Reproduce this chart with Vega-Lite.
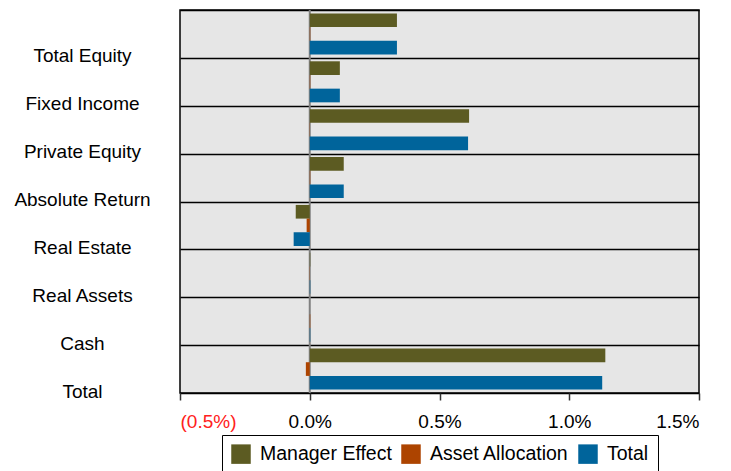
{
  "$schema": "https://vega.github.io/schema/vega-lite/v6.json",
  "autosize": "none",
  "width": 519,
  "height": 383,
  "padding": {"left": 180, "top": 10, "right": 32, "bottom": 78},
  "background": "white",
  "config": {
    "font": "Liberation Sans",
    "view": {"fill": "#e6e6e6", "stroke": "black", "strokeWidth": 1.5}
  },
  "data": {
    "values": [
      {"category": "Total Equity", "series": "Manager Effect", "value": 0.00336},
      {"category": "Total Equity", "series": "Asset Allocation", "value": 0.00002},
      {"category": "Total Equity", "series": "Total", "value": 0.00336},
      {"category": "Fixed Income", "series": "Manager Effect", "value": 0.00116},
      {"category": "Fixed Income", "series": "Asset Allocation", "value": 0.00002},
      {"category": "Fixed Income", "series": "Total", "value": 0.00116},
      {"category": "Private Equity", "series": "Manager Effect", "value": 0.00614},
      {"category": "Private Equity", "series": "Asset Allocation", "value": -0.00001},
      {"category": "Private Equity", "series": "Total", "value": 0.0061},
      {"category": "Absolute Return", "series": "Manager Effect", "value": 0.00131},
      {"category": "Absolute Return", "series": "Asset Allocation", "value": 0.00002},
      {"category": "Absolute Return", "series": "Total", "value": 0.00131},
      {"category": "Real Estate", "series": "Manager Effect", "value": -0.00054},
      {"category": "Real Estate", "series": "Asset Allocation", "value": -0.00012},
      {"category": "Real Estate", "series": "Total", "value": -0.00062},
      {"category": "Real Assets", "series": "Manager Effect", "value": 0.00002},
      {"category": "Real Assets", "series": "Asset Allocation", "value": -0.00001},
      {"category": "Real Assets", "series": "Total", "value": 0.00002},
      {"category": "Cash", "series": "Manager Effect", "value": 0.0},
      {"category": "Cash", "series": "Asset Allocation", "value": 0.00002},
      {"category": "Cash", "series": "Total", "value": 0.00002},
      {"category": "Total", "series": "Manager Effect", "value": 0.01139},
      {"category": "Total", "series": "Asset Allocation", "value": -0.00015},
      {"category": "Total", "series": "Total", "value": 0.01127}
    ]
  },
  "layer": [
    {
      "data": {"values": [{"x": 0}]},
      "mark": {"type": "rule", "color": "#808080", "strokeWidth": 2},
      "encoding": {"x": {"field": "x", "type": "quantitative"}}
    },
    {
      "mark": {"type": "bar"},
      "encoding": {
        "y": {
          "field": "category",
          "type": "nominal",
          "sort": ["Total Equity", "Fixed Income", "Private Equity", "Absolute Return", "Real Estate", "Real Assets", "Cash", "Total"],
          "scale": {"paddingInner": 0, "paddingOuter": 0},
          "axis": {
            "title": null,
            "domain": false,
            "ticks": false,
            "grid": true,
            "gridColor": "black",
            "gridWidth": 1.5,
            "gridOpacity": 1,
            "tickBand": "extent",
            "labelAlign": "center",
            "labelPadding": 98,
            "labelOffset": 22,
            "labelFontSize": 19,
            "labelColor": "black"
          }
        },
        "yOffset": {
          "field": "series",
          "type": "nominal",
          "sort": ["Manager Effect", "Asset Allocation", "Total"],
          "scale": {"paddingInner": 0, "paddingOuter": 0.25}
        },
        "x": {
          "field": "value",
          "type": "quantitative",
          "scale": {"domain": [-0.005, 0.015], "nice": false, "zero": false},
          "axis": {
            "title": null,
            "values": [-0.005, 0, 0.005, 0.01, 0.015],
            "grid": false,
            "domain": false,
            "tickSize": 7,
            "tickColor": "#333333",
            "tickWidth": 1.5,
            "labelPadding": 12,
            "labelFontSize": 19,
            "labelExpr": "datum.value < 0 ? '(' + format(-datum.value, '.1%') + ')' : format(datum.value, '.1%')",
            "labelColor": {"condition": {"test": "datum.value < 0", "value": "#ff2020"}, "value": "black"}
          }
        },
        "color": {
          "field": "series",
          "type": "nominal",
          "sort": ["Manager Effect", "Asset Allocation", "Total"],
          "scale": {"domain": ["Manager Effect", "Asset Allocation", "Total"], "range": ["#5c5b22", "#ad4400", "#00649b"]},
          "legend": {
            "title": null,
            "orient": "none",
            "direction": "horizontal",
            "legendX": 42,
            "legendY": 425,
            "strokeColor": "black",
            "padding": 9,
            "symbolType": "square",
            "symbolSize": 380,
            "symbolStrokeWidth": 0,
            "labelFontSize": 19.5,
            "labelColor": "black",
            "labelOffset": 9,
            "columnPadding": 9
          }
        }
      }
    }
  ]
}
